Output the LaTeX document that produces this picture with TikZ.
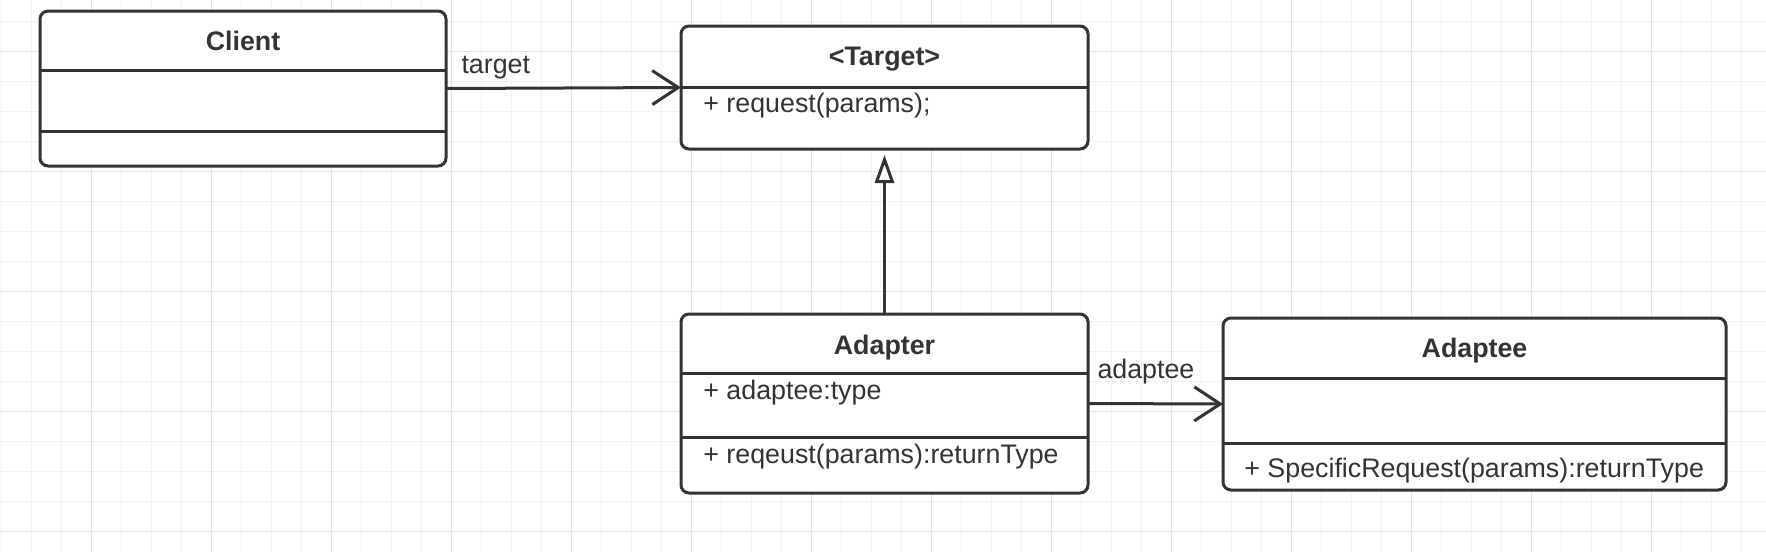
\documentclass[tikz,border=0pt]{standalone}
\usepackage{fontspec}
\setmainfont{Liberation Sans}
\usetikzlibrary{arrows.meta}

\definecolor{umlgray}{HTML}{333333}
\definecolor{gridminor}{HTML}{F2F2F2}
\definecolor{gridmajor}{HTML}{E4E4E4}

\begin{document}
\begin{tikzpicture}[
    x=0.5pt, y=-0.5pt,
    every node/.style={font=\fontsize{13.4pt}{16pt}\selectfont, text=umlgray, inner sep=0pt},
    classbox/.style={draw=umlgray, line width=1.5pt, rounded corners=4pt, fill=white, outer sep=0pt},
    divider/.style={draw=umlgray, line width=1.5pt},
    classname/.style={anchor=base, font=\fontsize{13.4pt}{16pt}\selectfont\bfseries},
    member/.style={anchor=base west},
    assoc/.style={draw=umlgray, line width=1.5pt, -{Straight Barb[length=13pt, width=17pt]}},
    inherit/.style={draw=umlgray, line width=1.5pt, shorten >=3pt,
      -{Triangle[open, length=14pt, width=9.5pt, fill=white]}}
  ]

  \useasboundingbox (0,0) rectangle (1766,552);

  % Background grid
  \foreach \x in {1,31,...,1766} \draw[gridminor, line width=0.5pt] (\x,0) -- (\x,552);
  \foreach \y in {21,51,...,552} \draw[gridminor, line width=0.5pt] (0,\y) -- (1766,\y);
  \foreach \x in {91,211,...,1766} \draw[gridmajor, line width=0.5pt] (\x,0) -- (\x,552);
  \foreach \y in {51,171,...,552} \draw[gridmajor, line width=0.5pt] (0,\y) -- (1766,\y);

  % Client class
  \node[classbox, minimum width=203pt, minimum height=77.5pt] (client) at (243,88.5) {};
  \node[classname] (clientname) at (243,50) {Client};
  \draw[divider] (client.west |- 0,70) -- (client.east |- 0,70);
  \draw[divider] (client.west |- 0,131) -- (client.east |- 0,131);

  % Target interface
  \node[classbox, minimum width=203.5pt, minimum height=61.5pt] (target) at (884.5,87.5) {};
  \node[classname] (targetname) at (884.5,65) {<Target>};
  \draw[divider] (target.west |- 0,87) -- (target.east |- 0,87);
  \node[member] (targetop) at (703,112) {+ request(params);};

  % Adapter class
  \node[classbox, minimum width=203.5pt, minimum height=89.5pt] (adapter) at (884.5,403.5) {};
  \node[classname] (adaptername) at (884.5,354) {Adapter};
  \draw[divider] (adapter.west |- 0,373) -- (adapter.east |- 0,373);
  \node[member] (adapterattr) at (703,399) {+ adaptee:type};
  \draw[divider] (adapter.west |- 0,437) -- (adapter.east |- 0,437);
  \node[member] (adapterop) at (703,463) {+ reqeust(params):returnType};

  % Adaptee class
  \node[classbox, minimum width=251.5pt, minimum height=86pt] (adaptee) at (1474.5,404) {};
  \node[classname] (adapteename) at (1474.5,357) {Adaptee};
  \draw[divider] (adaptee.west |- 0,378) -- (adaptee.east |- 0,378);
  \draw[divider] (adaptee.west |- 0,443) -- (adaptee.east |- 0,443);
  \node[member] (adapteeop) at (1244,477) {+ SpecificRequest(params):returnType};

  % Relations
  \draw[assoc] (client.east) -- node[pos=0, anchor=base west, xshift=7pt, yshift=7.5pt] (targetlabel) {target} (target.west);
  \draw[inherit] (adapter) -- (target);
  \draw[assoc] (adapter.east) -- node[pos=0, anchor=base west, xshift=4pt, yshift=12.5pt] (adapteelabel) {adaptee} (adaptee.west);

\end{tikzpicture}
\end{document}
